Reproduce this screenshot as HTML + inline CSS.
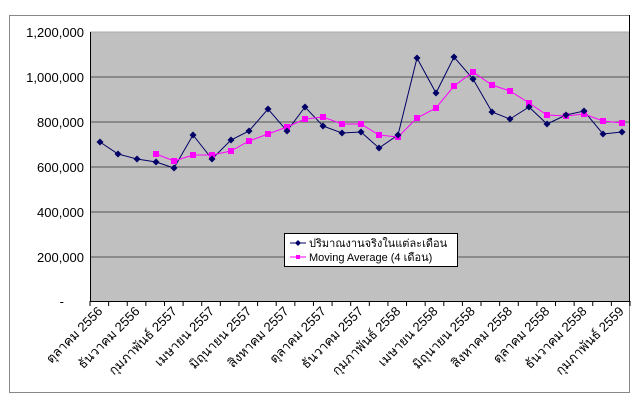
<!DOCTYPE html>
<html><head><meta charset="utf-8"><style>body{margin:0;background:#fff}svg{display:block}</style></head><body>
<svg width="640" height="402" xmlns="http://www.w3.org/2000/svg" font-family="Liberation Sans, Noto Sans CJK SC, sans-serif">
<rect x="0" y="0" width="640" height="402" fill="#fff"/>
<rect x="9.5" y="15.5" width="620" height="377" fill="#fff" stroke="#888" stroke-width="1"/>
<rect x="90" y="32" width="540" height="269" fill="#c0c0c0"/>
<g stroke="#555" stroke-width="1">
<line x1="90" y1="32" x2="630" y2="32" stroke="#aaa"/>
<line x1="90" y1="77" x2="630" y2="77"/>
<line x1="90" y1="122" x2="630" y2="122"/>
<line x1="90" y1="167" x2="630" y2="167"/>
<line x1="90" y1="212" x2="630" y2="212"/>
<line x1="90" y1="257" x2="630" y2="257"/>
</g>
<line x1="90.5" y1="32" x2="90.5" y2="301" stroke="#000"/>
<line x1="90" y1="301.5" x2="630" y2="301.5" stroke="#000"/>
<line x1="629.5" y1="15" x2="629.5" y2="301" stroke="#000"/>
<g stroke="#000" id="ticks"></g>
<g font-size="13" text-anchor="end" fill="#000">
<text x="84" y="37">1,200,000</text>
<text x="84" y="82">1,000,000</text>
<text x="84" y="127">800,000</text>
<text x="84" y="172">600,000</text>
<text x="84" y="217">400,000</text>
<text x="84" y="262">200,000</text>
<text x="64" y="306">-</text>
</g>
<g id="xl" font-size="13" text-anchor="end" fill="#000"></g>
<polyline fill="none" stroke="#000066" stroke-width="1" points="100,142 118,154 137,159 156,162 174,168 193,135 212,159 231,140 249,131 268,109 287,131 305,107 323,126 342,133 361,132 379,148 398,135 417,58 436,93 454,57 473,79 492,112 510,119 529,107 547,124 566,115 584,111 603,134 622,132"/>
<polyline fill="none" stroke="#ff00ff" stroke-width="1" points="156,154 174,161 193,155 212,155 231,151 249,141 268,134 287,127 305,119 323,117 342,124 361,124 379,135 398,137 417,118 436,108 454,86 473,72 492,85 510,91 529,103 547,115 566,116 584,114 603,121 622,123"/>
<g id="pm"></g>
<rect x="284.5" y="233.5" width="173" height="33" fill="#fff" stroke="#000"/>
<line x1="290" y1="243" x2="306" y2="243" stroke="#000066"/>
<path d="M298,240 L301,243 L298,246 L295,243Z" fill="#000066"/>
<line x1="290" y1="257" x2="306" y2="257" stroke="#ff00ff"/>
<rect x="296" y="255" width="4" height="4" fill="#ff00ff"/>
<text x="309" y="247" font-size="11">ปริมาณงานจริงในแต่ละเดือน</text>
<text x="309" y="261" font-size="11">Moving Average (4 เดือน)</text>
<script>
var ns="http://www.w3.org/2000/svg";
var t=document.getElementById("ticks");
for(var i=0;i<=29;i++){var x=90+i*540/29;var l=document.createElementNS(ns,"line");l.setAttribute("x1",x);l.setAttribute("x2",x);l.setAttribute("y1",301);l.setAttribute("y2",306);t.appendChild(l);}
var labs=["ตุลาคม 2556","ธันวาคม 2556","กุมภาพันธ์ 2557","เมษายน 2557","มิถุนายน 2557","สิงหาคม 2557","ตุลาคม 2557","ธันวาคม 2557","กุมภาพันธ์ 2558","เมษายน 2558","มิถุนายน 2558","สิงหาคม 2558","ตุลาคม 2558","ธันวาคม 2558","กุมภาพันธ์ 2559"];
var g=document.getElementById("xl");
labs.forEach(function(s,k){var x=99.3+k*2*540/29+4;var y=312;var e=document.createElementNS(ns,"text");e.setAttribute("x",x);e.setAttribute("y",y);e.setAttribute("transform","rotate(-45 "+x+" "+y+")");e.textContent=s;g.appendChild(e);});
var pm=document.getElementById("pm");
function mk(pts,c,sq){pts.split(" ").forEach(function(p){var a=p.split(",");var x=+a[0],y=+a[1];var e;if(sq){e=document.createElementNS(ns,"rect");e.setAttribute("x",x-3);e.setAttribute("y",y-3);e.setAttribute("width",6);e.setAttribute("height",6);}else{e=document.createElementNS(ns,"path");e.setAttribute("d","M"+x+","+(y-3.5)+" L"+(x+3.5)+","+y+" L"+x+","+(y+3.5)+" L"+(x-3.5)+","+y+"Z");}e.setAttribute("fill",c);pm.appendChild(e);});}
var pl=document.querySelectorAll("polyline");
mk(pl[1].getAttribute("points"),"#ff00ff",true);
mk(pl[0].getAttribute("points"),"#000066",false);
</script>
</svg>
</body></html>
